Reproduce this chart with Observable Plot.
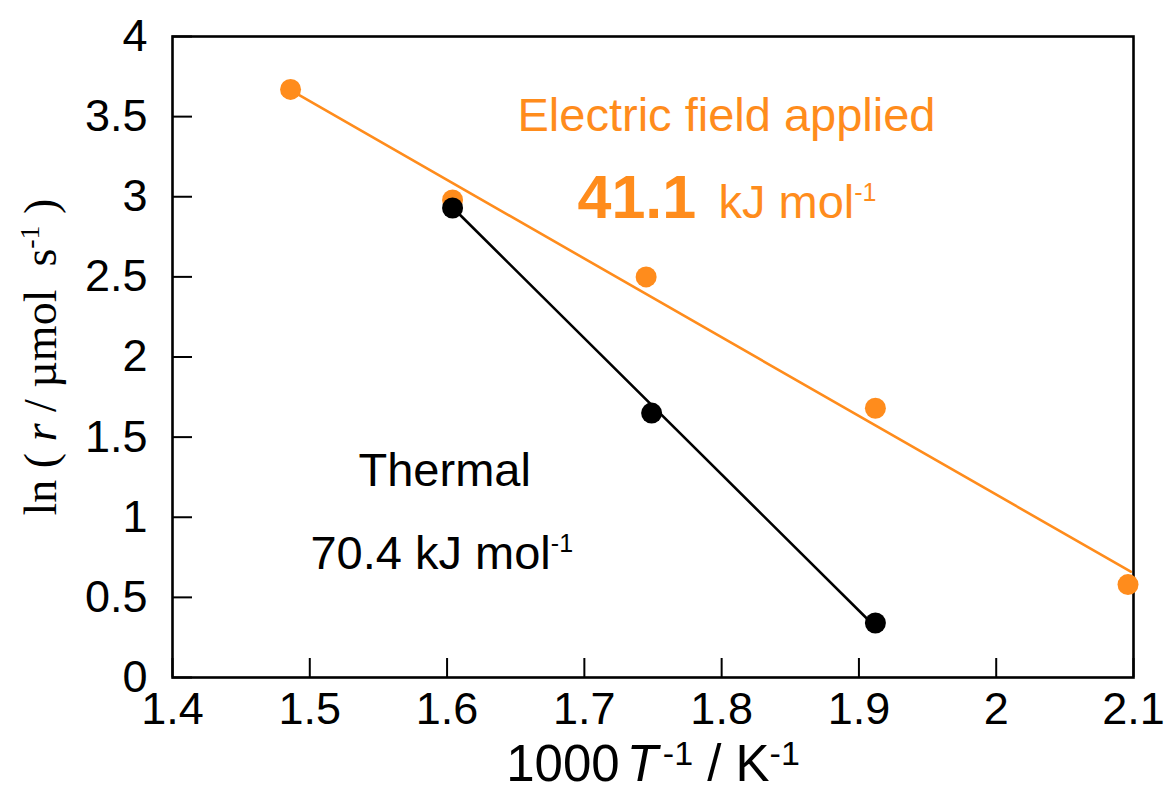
<!DOCTYPE html>
<html>
<head>
<meta charset="utf-8">
<script src="https://cdn.jsdelivr.net/npm/d3@7"></script>
<script src="https://cdn.jsdelivr.net/npm/@observablehq/plot@0.6"></script>
<style>
  html, body { margin: 0; padding: 0; background: #fff; }
</style>
</head>
<body>
<div id="chart"></div>
<script>
// ---- data ----
const fieldInvT = [1.486, 1.604, 1.745, 1.912, 2.096];
const fieldLnR  = [3.67, 2.98, 2.50, 1.68, 0.58];
const thermalInvT = [1.604, 1.749, 1.912];
const thermalLnR  = [2.93, 1.65, 0.34];
// fitted Arrhenius lines (end points)
const fieldFitInvT = [1.486, 2.098];
const fieldFitLnR  = [3.665, 0.66];
const thermalFitInvT = [1.604, 1.912];
const thermalFitLnR  = [2.933, 0.315];
// axes
const xTicks = [1.4, 1.5, 1.6, 1.7, 1.8, 1.9, 2.0, 2.1];
const xTickLabels = ["1.4", "1.5", "1.6", "1.7", "1.8", "1.9", "2", "2.1"];
const yTicks = [0, 0.5, 1, 1.5, 2, 2.5, 3, 3.5, 4];
const yTickLabels = ["0", "0.5", "1", "1.5", "2", "2.5", "3", "3.5", "4"];
// annotations
const fieldLabel = "Electric field applied";
const fieldEa = "41.1";
const thermalLabel = "Thermal";
const thermalEa = "70.4";

const ORANGE = "#ff8c1c";
const field = fieldInvT.map((x, i) => ({x, y: fieldLnR[i]}));
const thermal = thermalInvT.map((x, i) => ({x, y: thermalLnR[i]}));
const fieldFit = fieldFitInvT.map((x, i) => ({x, y: fieldFitLnR[i]}));
const thermalFit = thermalFitInvT.map((x, i) => ({x, y: thermalFitLnR[i]}));

const plot = Plot.plot({
  width: 1165,
  height: 792,
  marginLeft: 172,
  marginRight: 32,
  marginTop: 36,
  marginBottom: 115,
  style: {fontFamily: "'Liberation Sans', Arial, sans-serif", fontSize: "45px", color: "#000", background: "#fff"},
  x: {domain: [1.4, 2.1]},
  y: {domain: [0, 4]},
  marks: [
    Plot.axisX({ticks: xTicks, tickFormat: (d) => xTickLabels[xTicks.indexOf(d)], tickSize: -19, tickPadding: 34, strokeWidth: 2, label: null, fontSize: 45}),
    Plot.axisY({ticks: yTicks, tickFormat: (d) => yTickLabels[yTicks.indexOf(d)], tickSize: -20, tickPadding: 45, strokeWidth: 2, label: null, fontSize: 45}),
    Plot.frame({stroke: "#000", strokeWidth: 2.6}),
    Plot.line(fieldFit, {x: "x", y: "y", stroke: ORANGE, strokeWidth: 2.6}),
    Plot.line(thermalFit, {x: "x", y: "y", stroke: "#000", strokeWidth: 2.6}),
    Plot.dot(field, {x: "x", y: "y", r: 10.5, fill: ORANGE}),
    Plot.dot(thermal, {x: "x", y: "y", r: 10.5, fill: "#000"}),
    Plot.text([fieldLabel], {x: 1.6513, y: 3.413, text: (d) => d, textAnchor: "start", lineAnchor: "bottom", fill: ORANGE, fontSize: 47}),
    Plot.text([fieldEa], {x: 1.695, y: 2.87, text: (d) => d, textAnchor: "start", lineAnchor: "bottom", fill: ORANGE, fontSize: 61, fontWeight: "bold"}),
    Plot.text(["kJ mol^-1"], {x: 1.7977, y: 2.87, text: (d) => d, textAnchor: "start", lineAnchor: "bottom", fill: ORANGE, fontSize: 47}),
    Plot.text([thermalLabel], {x: 1.5355, y: 1.198, text: (d) => d, textAnchor: "start", lineAnchor: "bottom", fill: "#000", fontSize: 47}),
    Plot.text([thermalEa + " kJ mol^-1"], {x: 1.5005, y: 0.68, text: (d) => d, textAnchor: "start", lineAnchor: "bottom", fill: "#000", fontSize: 47}),
    Plot.text(["XLABEL"], {frameAnchor: "bottom", dy: 103, text: (d) => d, textAnchor: "middle", lineAnchor: "bottom", fill: "#000", fontSize: 51}),
    Plot.text(["YLABEL"], {frameAnchor: "left", dx: -117, rotate: -90, text: (d) => d, textAnchor: "middle", lineAnchor: "bottom", fill: "#000", fontSize: 46, fontFamily: "'Liberation Serif', 'Times New Roman', serif"})
  ]
});

document.getElementById("chart").appendChild(plot);

// rich text (superscripts / italics) on the plotted text elements
function rich(el, parts) {
  const t = d3.select(el);
  t.text("");
  for (const p of parts) {
    const s = t.append("tspan").text(p.t);
    if (p.italic) s.attr("font-style", "italic");
    if (p.size) s.attr("font-size", p.size);
    if (p.dy) s.attr("dy", p.dy);
    if (p.dx) s.attr("dx", p.dx);
  }
}
d3.select(plot).selectAll("text").each(function () {
  const c = this.textContent;
  if (c.endsWith(" kJ mol^-1") || c === "kJ mol^-1") {
    const base = c.replace("^-1", "");
    rich(this, [{t: base}, {t: "-1", size: 25, dy: -17}]);
  } else if (c === "XLABEL") {
    rich(this, [
      {t: "1000"}, {t: "T", italic: true, dx: 7},
      {t: "-1", size: 34, dy: -16, dx: 5},
      {t: " / K", dy: 16},
      {t: "-1", size: 34, dy: -16}
    ]);
  } else if (c === "YLABEL") {
    rich(this, [
      {t: "ln ( "}, {t: "r", italic: true}, {t: " / \u00b5mol  s"},
      {t: "-1", size: 28, dy: -17},
      {t: " )", dy: 17}
    ]);
  }
});
</script>
</body>
</html>
